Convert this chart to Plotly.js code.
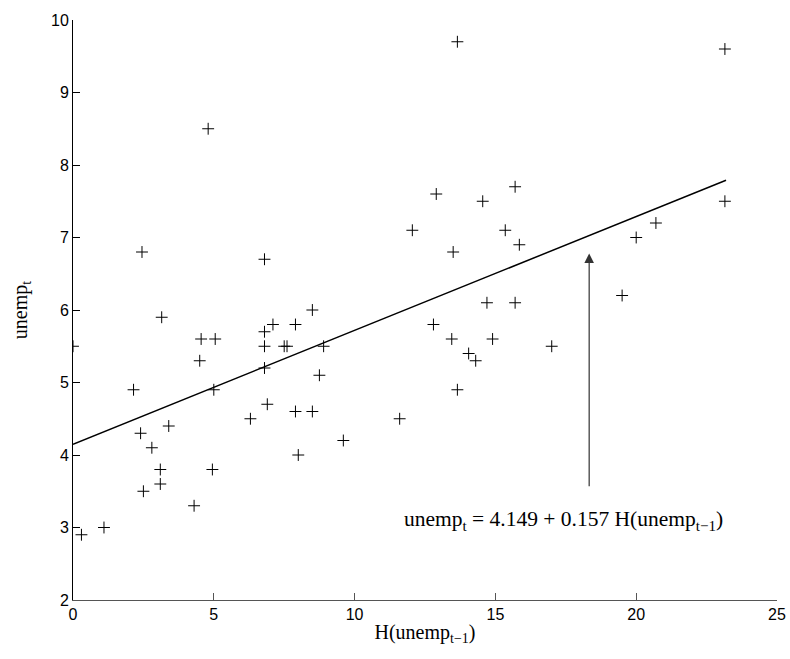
<!DOCTYPE html>
<html>
<head>
<meta charset="utf-8">
<script src="https://cdn.plot.ly/plotly-3.0.1.min.js"></script>
<style>html,body{margin:0;padding:0;background:#fff;}#chart{width:790px;height:659px;}</style>
</head>
<body>
<div id="chart"></div>
<script>
// Observed data: H(unemp_{t-1}) vs unemp_t
const hUnempLag = [0, 0.3, 1.1, 2.15, 2.4, 2.45, 2.5, 2.8, 3.1, 3.1, 3.15, 3.4, 4.3, 4.5, 4.55, 4.8, 4.95, 5.0, 5.05,
  6.3, 6.8, 6.8, 6.8, 6.8, 6.9, 7.1, 7.5, 7.6, 7.9, 7.9, 8.0, 8.5, 8.5, 8.75, 8.9, 9.6, 11.6, 12.05, 12.8, 12.9,
  13.45, 13.5, 13.65, 13.65, 14.05, 14.3, 14.55, 14.7, 14.9, 15.35, 15.7, 15.7, 15.85, 17.0, 19.5, 20.0, 20.7, 23.15, 23.15];
const unempT = [5.5, 2.9, 3.0, 4.9, 4.3, 6.8, 3.5, 4.1, 3.8, 3.6, 5.9, 4.4, 3.3, 5.3, 5.6, 8.5, 3.8, 4.9, 5.6,
  4.5, 6.7, 5.7, 5.5, 5.2, 4.7, 5.8, 5.5, 5.5, 5.8, 4.6, 4.0, 6.0, 4.6, 5.1, 5.5, 4.2, 4.5, 7.1, 5.8, 7.6,
  5.6, 6.8, 9.7, 4.9, 5.4, 5.3, 7.5, 6.1, 5.6, 7.1, 7.7, 6.1, 6.9, 5.5, 6.2, 7.0, 7.2, 9.6, 7.5];

// Fitted line
const intercept = 4.149;
const slope = 0.157;
const fitX = [0, 23.19];
const fitY = fitX.map(v => intercept + slope * v);

// Axis ticks
const xTicks = [0, 5, 10, 15, 20, 25];
const yTicks = [2, 3, 4, 5, 6, 7, 8, 9, 10];

// Arrow pointing to the fitted line
const arrowX = 18.33;
const arrowTail = 3.55;
const arrowTip = 6.78;
const eqLabelX = 17.43;
const eqLabelY = 3.1;

const serif = '"Liberation Serif", "Times New Roman", Times, serif';
const sans = '"Liberation Sans", Arial, Helvetica, sans-serif';
const sub = s => '<sub>' + s + '</sub>';

const traces = [
  {
    x: hUnempLag, y: unempT, type: 'scatter', mode: 'markers',
    marker: {symbol: 'cross-thin', size: 8.5, color: '#000', line: {color: '#000', width: 1}},
    hoverinfo: 'x+y', showlegend: false
  },
  {
    x: fitX, y: fitY, type: 'scatter', mode: 'lines',
    line: {color: '#000', width: 1.5}, showlegend: false
  }
];

const layout = {
  width: 790, height: 659,
  margin: {l: 73, r: 13, t: 20, b: 59},
  paper_bgcolor: '#fff', plot_bgcolor: '#fff',
  showlegend: false,
  font: {family: sans, size: 16, color: '#000'},
  xaxis: {
    range: [0, 25], tickvals: xTicks, ticktext: xTicks.map(String),
    showgrid: false, zeroline: false,
    showline: true, linecolor: '#555', linewidth: 1, mirror: false,
    ticks: 'inside', ticklen: 7, tickcolor: '#555', tickwidth: 1,
    tickfont: {family: sans, size: 16, color: '#000'},
    title: {text: 'H(unemp' + sub('t−1') + ')', font: {family: serif, size: 20, color: '#000'}, standoff: 2}
  },
  yaxis: {
    range: [2, 10], tickvals: yTicks, ticktext: yTicks.map(String),
    showgrid: false, zeroline: false,
    showline: true, linecolor: '#000', linewidth: 1, mirror: false,
    ticks: 'inside', ticklen: 7, tickcolor: '#000', tickwidth: 1,
    tickfont: {family: sans, size: 16, color: '#000'},
    title: {text: 'unemp' + sub('t'), font: {family: serif, size: 20, color: '#000'}, standoff: 18}
  },
  annotations: [
    {
      x: arrowX, y: arrowTip, ax: arrowX, ay: arrowTail,
      xref: 'x', yref: 'y', axref: 'x', ayref: 'y',
      text: '', showarrow: true, arrowhead: 2, arrowsize: 1.6, arrowwidth: 1.2, arrowcolor: '#333'
    },
    {
      x: eqLabelX, y: eqLabelY, xref: 'x', yref: 'y', showarrow: false,
      text: 'unemp' + sub('t') + ' = 4.149 + 0.157 H(unemp' + sub('t−1') + ')',
      font: {family: serif, size: 21.5, color: '#000'}
    }
  ]
};

Plotly.newPlot('chart', traces, layout, {displayModeBar: false, staticPlot: true});
</script>
</body>
</html>
